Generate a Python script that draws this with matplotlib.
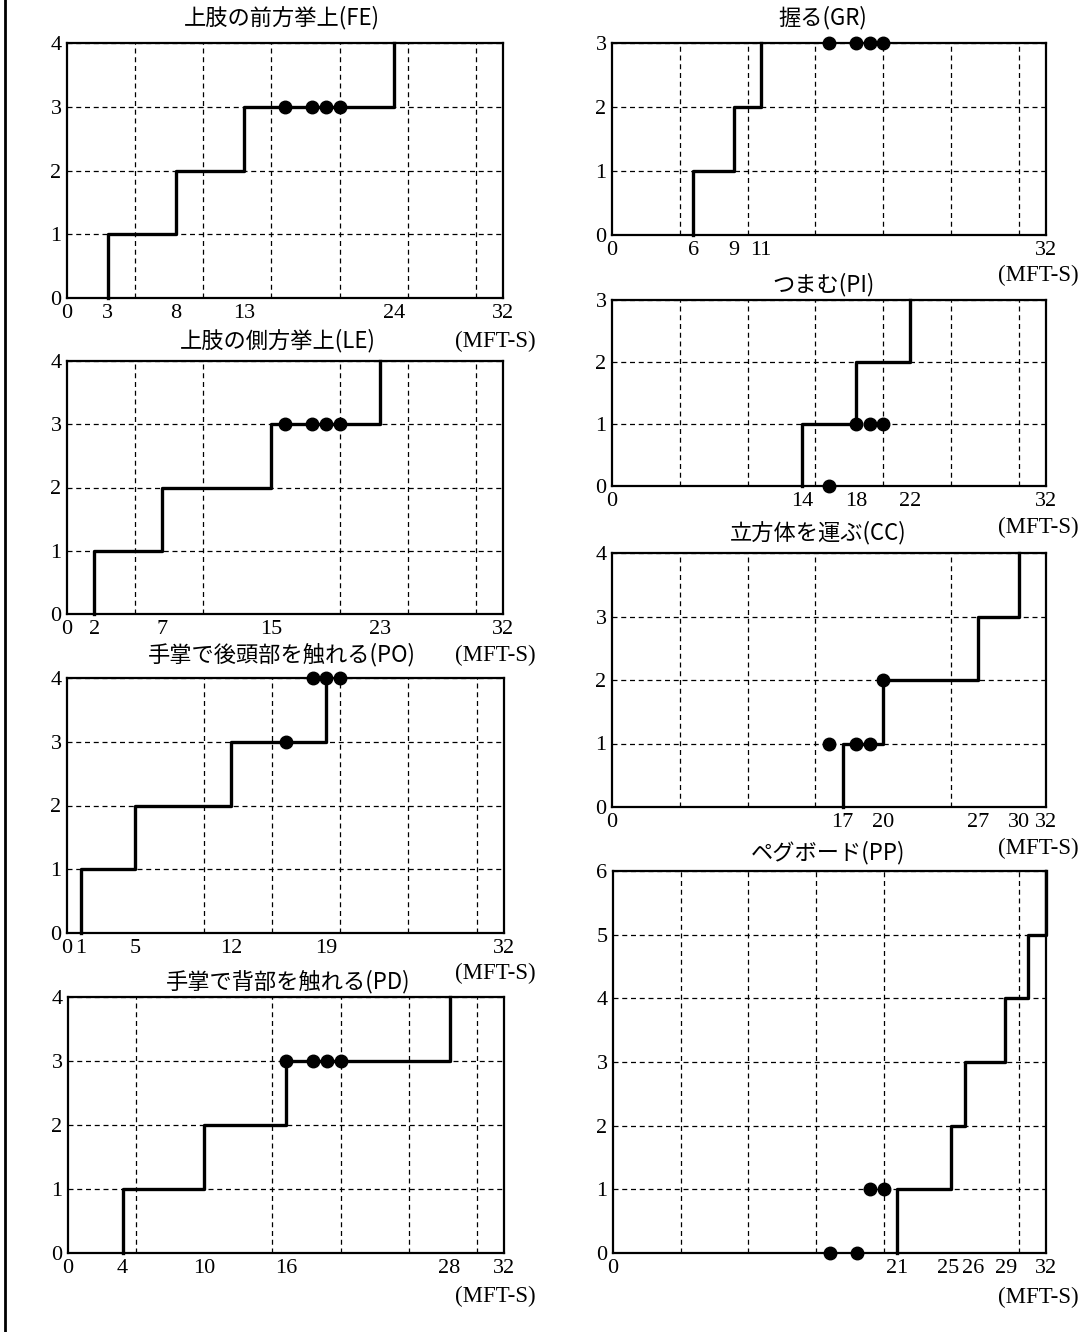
import numpy as np
import matplotlib.pyplot as plt
import matplotlib.transforms as mtransforms
from matplotlib.lines import Line2D

plt.rcParams['font.family'] = ['Liberation Serif', 'DejaVu Serif']
JP = ['Noto Sans CJK JP', 'DejaVu Sans']

# step positions (score rises by one at each x), ticks shown, and the four dots
fe_steps = [3, 8, 13, 24]
fe_ticks = [0, 3, 8, 13, 24, 32]
fe_dx = [16, 18, 19, 20]
fe_dy = [3, 3, 3, 3]

le_steps = [2, 7, 15, 23]
le_ticks = [0, 2, 7, 15, 23, 32]
le_dx = [16, 18, 19, 20]
le_dy = [3, 3, 3, 3]

po_steps = [1, 5, 12, 19]
po_ticks = [0, 1, 5, 12, 19, 32]
po_dx = [16, 18, 19, 20]
po_dy = [3, 4, 4, 4]

pd_steps = [4, 10, 16, 28]
pd_ticks = [0, 4, 10, 16, 28, 32]
pd_dx = [16, 18, 19, 20]
pd_dy = [3, 3, 3, 3]

gr_steps = [6, 9, 11]
gr_ticks = [0, 6, 9, 11, 32]
gr_dx = [16, 18, 19, 20]
gr_dy = [3, 3, 3, 3]

pi_steps = [14, 18, 22]
pi_ticks = [0, 14, 18, 22, 32]
pi_dx = [16, 18, 19, 20]
pi_dy = [0, 1, 1, 1]

cc_steps = [17, 20, 27, 30]
cc_ticks = [0, 17, 20, 27, 30, 32]
cc_dx = [16, 18, 19, 20]
cc_dy = [1, 1, 1, 2]

pp_steps = [21, 25, 26, 29, 30.7, 32]
pp_ticks = [0, 21, 25, 26, 29, 32]
pp_dx = [16, 18, 19, 20]
pp_dy = [0, 0, 1, 1]

W, H = 1084, 1332
fig = plt.figure(figsize=(W / 100, H / 100), dpi=100)


def panel(box, title, title_xy, steps, ymax, ticks, dx, dy, unit_xy, nudge=None):
    x0, y0, x1, y1 = box
    ax = fig.add_axes([x0 / W, 1 - y1 / H, (x1 - x0) / W, (y1 - y0) / H])
    xs = [steps[0]] + list(steps)
    ys = list(range(len(steps) + 1))
    ax.step(xs, ys, where='post', color='black', lw=2.4, clip_on=False, zorder=3)
    ax.plot(dx, dy, 'o', color='black', ms=9, clip_on=False, zorder=4)
    ax.set_xlim(0, 32)
    ax.set_ylim(0, ymax)
    ax.set_xticks(ticks)
    ax.set_xticks(range(5, 31, 5), minor=True)
    ax.set_yticks(range(ymax + 1))
    ax.tick_params(which='both', length=0, labelsize=16)
    ax.tick_params(axis='x', pad=4)
    ax.tick_params(axis='y', pad=4)
    if nudge:
        for t, lab in zip(ticks, ax.get_xticklabels()):
            if t in nudge:
                off = mtransforms.ScaledTranslation(nudge[t] / 100, 0, fig.dpi_scale_trans)
                lab.set_transform(lab.get_transform() + off)
    ax.grid(which='minor', axis='x', color='black', lw=0.9, ls=(0, (4, 3)))
    ax.grid(which='major', axis='y', color='black', lw=0.9, ls=(0, (4, 3)))
    for s in ax.spines.values():
        s.set_linewidth(1.6)
    fig.text(title_xy[0] / W, 1 - title_xy[1] / H, title, family=JP,
             fontsize=16, ha='center', va='center')
    fig.text(unit_xy[0] / W, 1 - unit_xy[1] / H, '(MFT-S)', fontsize=16.5,
             ha='right', va='center')
    return ax


panel((67, 43, 503, 298), '上肢の前方挙上(FE)', (282, 18), fe_steps, 4, fe_ticks, fe_dx, fe_dy, (536, 341))
panel((67, 361, 503, 614), '上肢の側方挙上(LE)', (278, 341), le_steps, 4, le_ticks, le_dx, le_dy, (536, 655))
panel((67, 678, 504, 933), '手掌で後頭部を触れる(PO)', (282, 655), po_steps, 4, po_ticks, po_dx, po_dy, (536, 973))
panel((68, 997, 504, 1253), '手掌で背部を触れる(PD)', (288, 982), pd_steps, 4, pd_ticks, pd_dx, pd_dy, (536, 1296))
panel((612, 43, 1046, 235), '握る(GR)', (823, 18), gr_steps, 3, gr_ticks, gr_dx, gr_dy, (1079, 275))
panel((612, 300, 1046, 486), 'つまむ(PI)', (824, 285), pi_steps, 3, pi_ticks, pi_dx, pi_dy, (1079, 527))
panel((612, 553, 1046, 807), '立方体を運ぶ(CC)', (818, 533), cc_steps, 4, cc_ticks, cc_dx, cc_dy, (1079, 848))
panel((613, 871, 1046, 1253), 'ペグボード(PP)', (828, 853), pp_steps, 6, pp_ticks, pp_dx, pp_dy, (1079, 1297),
      nudge={25: -3, 26: 8, 29: 1})

# page border at the left
fig.add_artist(Line2D([5 / W, 5 / W], [0, 1], color='black', lw=2))

fig.savefig('out.png', dpi=100)
